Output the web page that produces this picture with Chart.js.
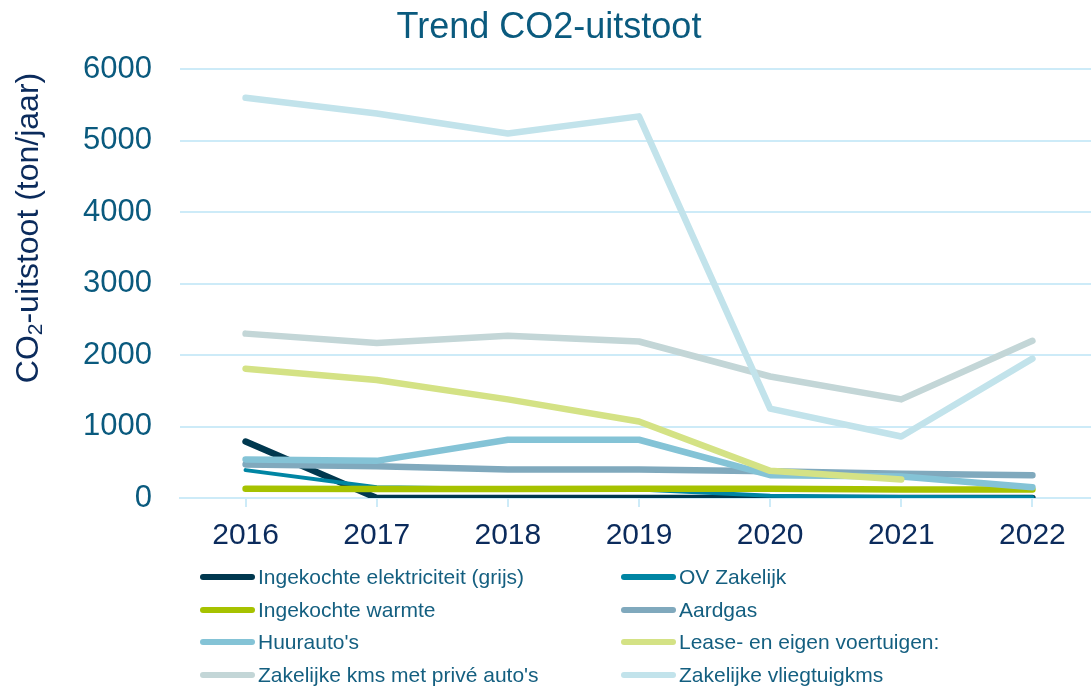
<!DOCTYPE html>
<html>
<head>
<meta charset="utf-8">
<script src="https://cdn.jsdelivr.net/npm/chart.js@4/dist/chart.umd.min.js"></script>
<style>
  html, body { margin: 0; padding: 0; background: #fff; overflow: hidden; width: 1091px; height: 692px; }
  #wrap { position: absolute; left: 0; top: 0; width: 1100px; height: 692px; }
  #ytitle {
    position: absolute; left: 27px; top: 228px;
    transform: translate(-50%, -50%) rotate(-90deg);
    white-space: nowrap; font-family: "Liberation Sans", Arial, sans-serif;
    font-size: 32px; color: #0b2b5c;
  }
  #ytitle sub { font-size: 21px; vertical-align: -4px; line-height: 0; }
  #legenda { position: absolute; left: 0; top: 0; width: 1091px; height: 692px; pointer-events: none; }
  .item { position: absolute; height: 24px; display: flex; align-items: center;
    font-family: "Liberation Sans", Arial, sans-serif; font-size: 21px; color: #145f80; white-space: nowrap; }
  .streep { width: 55px; height: 6px; border-radius: 3px; margin-right: 3px; }
</style>
</head>
<body>
<div id="wrap"><canvas id="grafiek"></canvas></div>
<div id="ytitle">CO<sub>2</sub>-uitstoot (ton/jaar)</div>
<div id="legenda"></div>
<script>
const jaren = ['2016', '2017', '2018', '2019', '2020', '2021', '2022'];

const elektriciteit = [790, 0, 0, 0, 0, 0, 0];
const ov_zakelijk = [390, 150, 130, 120, 30, 15, 10];
const warmte = [130, 125, 125, 130, 130, 120, 120];
const aardgas = [470, 445, 400, 400, 375, 340, 320];
const huurautos = [540, 520, 815, 815, 320, 300, 150];
const lease = [1810, 1650, 1380, 1070, 380, 260, null];
const prive_autos = [2300, 2170, 2270, 2190, 1700, 1380, 2200];
const vliegtuig = [5600, 5380, 5100, 5340, 1250, 860, 1950];

const series = [
  { naam: 'Ingekochte elektriciteit (grijs)', data: elektriciteit, kleur: '#00384f', dikte: 6.5 },
  { naam: 'OV Zakelijk', data: ov_zakelijk, kleur: '#0085a3', dikte: 4 },
  { naam: 'Ingekochte warmte', data: warmte, kleur: '#a6c200', dikte: 6.5 },
  { naam: 'Aardgas', data: aardgas, kleur: '#80a9bd', dikte: 6.5 },
  { naam: "Huurauto's", data: huurautos, kleur: '#84c3d6', dikte: 6.5 },
  { naam: 'Lease- en eigen voertuigen:', data: lease, kleur: '#d4e285', dikte: 6.5 },
  { naam: "Zakelijke kms met privé auto's", data: prive_autos, kleur: '#c3d6d7', dikte: 6.5 },
  { naam: 'Zakelijke vliegtuigkms', data: vliegtuig, kleur: '#c2e3eb', dikte: 6.5 }
];

const datasets = series.map((s, i) => ({
  label: s.naam,
  data: s.data,
  borderColor: s.kleur,
  backgroundColor: s.kleur,
  borderWidth: s.dikte,
  pointRadius: 0,
  tension: 0,
  borderCapStyle: 'round',
  borderJoinStyle: 'round',
  spanGaps: false,
  order: series.length - i
}));

const rasterKleur = '#cdebf8';

new Chart(document.getElementById('grafiek'), {
  type: 'line',
  data: { labels: jaren, datasets: datasets },
  options: {
    responsive: true,
    maintainAspectRatio: false,
    animation: false,
    layout: { padding: { left: 0, right: 2, top: 6, bottom: 127 } },
    plugins: {
      legend: { display: false },
      tooltip: { enabled: false },
      title: {
        display: true,
        text: 'Trend CO2-uitstoot',
        color: '#0a5a7e',
        font: { family: '"Liberation Sans", Arial, sans-serif', size: 36, weight: 'normal' },
        padding: { top: 0, bottom: 20 }
      }
    },
    scales: {
      x: {
        offset: true,
        grid: { display: true, drawOnChartArea: false, drawTicks: true, tickLength: 9, color: rasterKleur, lineWidth: 2 },
        border: { display: true, color: rasterKleur, width: 2 },
        ticks: {
          color: '#0b2b5c', padding: 11,
          font: { family: '"Liberation Sans", Arial, sans-serif', size: 30 }
        }
      },
      y: {
        min: 0, max: 6000,
        afterFit: function (scale) { scale.width = 180; },
        grid: { color: rasterKleur, lineWidth: 2, drawTicks: false },
        border: { display: false },
        ticks: {
          stepSize: 1000, color: '#0a5a7e', padding: 28,
          callback: function (v) { return String(v); },
          font: { family: '"Liberation Sans", Arial, sans-serif', size: 31 }
        }
      }
    }
  }
});

// legenda in twee kolommen
const legenda = document.getElementById('legenda');
const kolomX = [200, 621];
const rijY = [565, 598, 630, 663];
series.forEach(function (s, i) {
  const el = document.createElement('div');
  el.className = 'item';
  el.style.left = kolomX[i % 2] + 'px';
  el.style.top = rijY[Math.floor(i / 2)] + 'px';
  const streep = document.createElement('div');
  streep.className = 'streep';
  streep.style.background = s.kleur;
  el.appendChild(streep);
  el.appendChild(document.createTextNode(s.naam));
  legenda.appendChild(el);
});
</script>
</body>
</html>
